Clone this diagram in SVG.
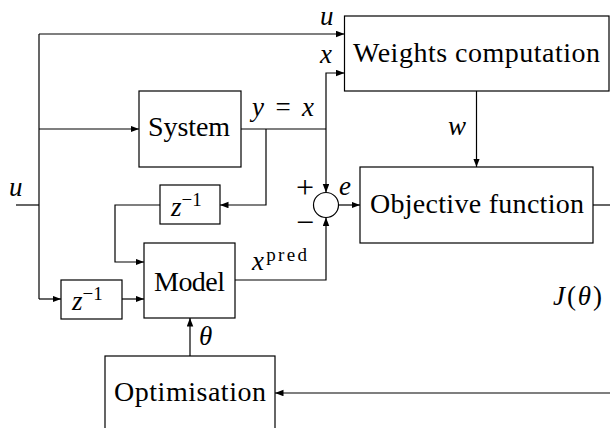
<svg xmlns="http://www.w3.org/2000/svg" width="610" height="428" viewBox="0 0 610 428">
<style>
.box{fill:#fff;stroke:#000;stroke-width:1.2}
.ln{fill:none;stroke:#000;stroke-width:1.2}
.arr{marker-end:url(#ah)}
.t{font-size:28px}
.m{font-size:27px;font-style:italic}
.r{font-style:normal}
.sup{font-size:19px}
.pm{font-size:32px}
</style>
<defs>
<marker id="ah" markerUnits="userSpaceOnUse" markerWidth="9" markerHeight="7" refX="8.5" refY="3.25" orient="auto">
<path d="M0,0 L8.5,3.25 L0,6.5 z" fill="#000"/>
</marker>
</defs>
<rect width="610" height="428" fill="#fff"/>
<g id="connectors">
<path class="ln" d="M16 205 H39"/>
<path class="ln" d="M39 34 V299"/>
<path class="ln arr" d="M39 34 H344.5"/>
<path class="ln arr" d="M39 129 H139"/>
<path class="ln" d="M241 129 H326"/>
<path class="ln arr" d="M266 129 V205 H220"/>
<path class="ln arr" d="M326 129 V73 H344.5"/>
<path class="ln arr" d="M326 129 V192.5"/>
<path class="ln arr" d="M338.5 205 H360"/>
<path class="ln arr" d="M160 205 H115 V262 H144"/>
<path class="ln arr" d="M39 299 H61"/>
<path class="ln arr" d="M122 299 H144"/>
<path class="ln arr" d="M235 280 H326 V217.5"/>
<path class="ln arr" d="M190 356 V318"/>
<path class="ln arr" d="M476.5 91 V167"/>
<path class="ln" d="M593 205 H610"/>
<path class="ln arr" d="M610 393 H275"/>
</g>
<g font-family="Liberation Serif, Tinos, Times New Roman, DejaVu Serif, serif" fill="#000">
<g id="weights">
<rect class="box" x="344.5" y="16" width="264.5" height="75"/>
<text class="t" x="476.5" y="62" text-anchor="middle" textLength="247">Weights computation</text>
</g>
<g id="system">
<rect class="box" x="139" y="91" width="102" height="76"/>
<text class="t" x="189" y="136" text-anchor="middle" textLength="82">System</text>
</g>
<g id="objective">
<rect class="box" x="360" y="167" width="233" height="76"/>
<text class="t" x="477" y="213" text-anchor="middle" textLength="214">Objective function</text>
</g>
<g id="sum">
<circle class="box" cx="326" cy="205" r="12.5"/>
</g>
<g id="delay1">
<rect class="box" x="160" y="185" width="60" height="39"/>
<text class="m" x="171" y="216">z<tspan class="r sup" dy="-10">−1</tspan></text>
</g>
<g id="model">
<rect class="box" x="144" y="243" width="91" height="75"/>
<text class="t" x="189.5" y="291" text-anchor="middle" textLength="71">Model</text>
</g>
<g id="delay2">
<rect class="box" x="61" y="280" width="61" height="39"/>
<text class="m" x="72" y="310">z<tspan class="r sup" dy="-10">−1</tspan></text>
</g>
<g id="optimisation">
<rect class="box" x="105" y="356" width="170" height="100"/>
<text class="t" x="190" y="401" text-anchor="middle" textLength="152">Optimisation</text>
</g>
<g id="labels">
<text class="m" x="9" y="196">u</text>
<text class="m" x="320" y="25">u</text>
<text class="m" x="320" y="63">x</text>
<text class="m" x="252" y="116" textLength="62">y <tspan class="r">=</tspan> x</text>
<text class="m" x="448" y="135">w</text>
<text class="pm" x="305" y="198" text-anchor="middle">+</text>
<text class="pm" x="305" y="233" text-anchor="middle">−</text>
<text class="m" x="339" y="195">e</text>
<text class="m" x="252" y="270" textLength="55">x<tspan class="r sup" dy="-9">pred</tspan></text>
<text class="m" x="199" y="345">θ</text>
<text class="m" x="553" y="305" textLength="49">J<tspan class="r">(</tspan>θ<tspan class="r">)</tspan></text>
</g>
</g>
</svg>
